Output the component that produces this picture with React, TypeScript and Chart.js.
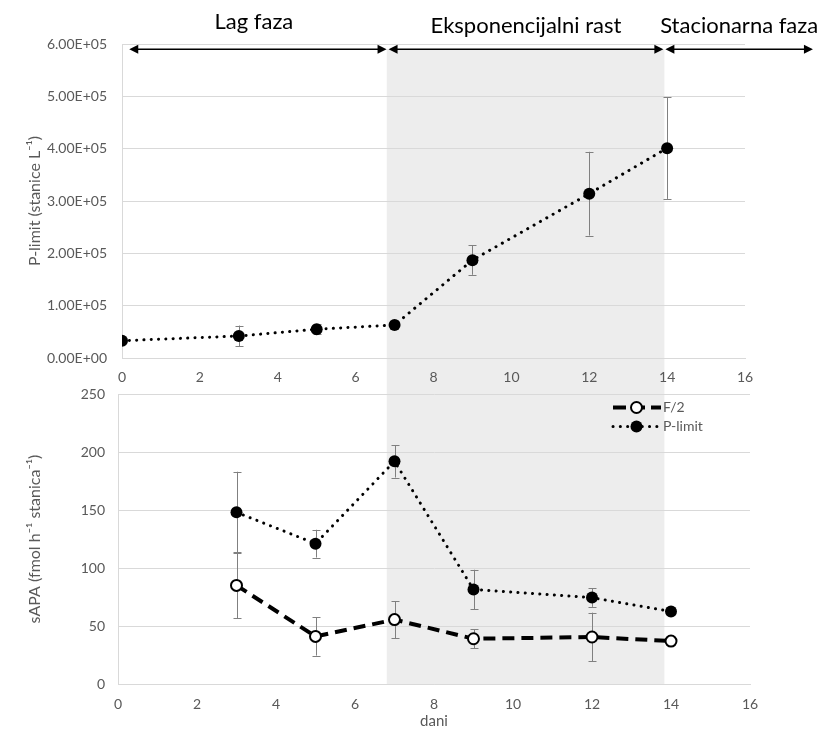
import React, { useEffect, useRef } from 'react';
import { Chart, registerables } from 'chart.js';

Chart.register(...registerables);

// ---------- data ----------
const days = [0, 3, 5, 7, 9, 12, 14];
const cellsPLimit = [33000, 42000, 55000, 63000, 187000, 314000, 401000];
const cellsPLimitErr = [0, 20000, 10000, 2000, 28000, 80000, 97000];

const sapaDays = [3, 5, 7, 9, 12, 14];
const sapaF2 = [85, 41, 55.5, 39, 40.5, 37];
const sapaF2Err = [28.5, 16.5, 16, 8, 21, 0];
const sapaPLimit = [148, 121, 192, 81.5, 74.5, 62.5];
const sapaPLimitErr = [35, 12, 14, 17, 8, 0];

const xTickValues = [0, 2, 4, 6, 8, 10, 12, 14, 16];
const topYTickValues = [0, 100000, 200000, 300000, 400000, 500000, 600000];
const topYTickLabels = ['0.00E+00', '1.00E+05', '2.00E+05', '3.00E+05', '4.00E+05', '5.00E+05', '6.00E+05'];
const bottomYTickValues = [0, 50, 100, 150, 200, 250];
const bottomYTickLabels = ['0', '50', '100', '150', '200', '250'];

const phaseLabels = ['Lag faza', 'Eksponencijalni rast', 'Stacionarna faza'];
const phaseBounds = [0.16, 6.82, 13.93, 17.77];
const shadedPhase = [6.8, 13.93];
const arrowLevel = 590000;

const seriesNames = ['F/2', 'P-limit'];

// ---------- style ----------
const W = 823;
const H = 731;
const FONT = "Lato, 'Open Sans', sans-serif";
const TICK_COLOR = '#595959';
const GRID = '#d9d9d9';
const BAND = '#ededed';
const ERR = '#808080';
const TICK_SIZE = 14;
const TITLE_SIZE = 16;

const errorBarsPlugin = {
  id: 'errorBars',
  beforeDatasetsDraw(chart: any) {
    const ctx = chart.ctx;
    const xs = chart.scales.x;
    const ys = chart.scales.y;
    ctx.save();
    ctx.strokeStyle = ERR;
    ctx.lineWidth = 1;
    ctx.setLineDash([]);
    chart.data.datasets.forEach((ds: any) => {
      if (!ds.errors) return;
      ds.data.forEach((p: any, i: number) => {
        const e = ds.errors[i];
        if (!e) return;
        const x = Math.round(xs.getPixelForValue(p.x)) + 0.5;
        const y1 = ys.getPixelForValue(p.y + e);
        const y2 = ys.getPixelForValue(p.y - e);
        ctx.beginPath();
        ctx.moveTo(x, y1);
        ctx.lineTo(x, y2);
        ctx.moveTo(x - 4, Math.round(y1) + 0.5);
        ctx.lineTo(x + 4, Math.round(y1) + 0.5);
        ctx.moveTo(x - 4, Math.round(y2) + 0.5);
        ctx.lineTo(x + 4, Math.round(y2) + 0.5);
        ctx.stroke();
      });
    });
    ctx.restore();
  },
};

function tickLabel(i: number, labels: string[]) {
  return labels[i] ?? '';
}

export default function App() {
  const topRef = useRef<HTMLCanvasElement>(null);
  const bottomRef = useRef<HTMLCanvasElement>(null);

  useEffect(() => {
    if (!topRef.current || !bottomRef.current) return;

    const tickFont = { family: FONT, size: TICK_SIZE };
    const titleFont = { family: FONT, size: TITLE_SIZE };

    // ---------------- bottom chart (sAPA) ----------------
    const legendPlugin = {
      id: 'customLegend',
      afterDraw(chart: any) {
        const ctx = chart.ctx;
        const { right, top } = chart.chartArea;
        const x0 = right - 137;
        const x1 = right - 101;
        const mx = right - 113.5;
        const tx = right - 87;
        ctx.save();
        chart.data.datasets.forEach((ds: any, i: number) => {
          const y = top + 13.5 + i * 19;
          ctx.beginPath();
          ctx.strokeStyle = ds.borderColor;
          ctx.lineWidth = ds.borderWidth;
          ctx.lineCap = ds.borderCapStyle || 'butt';
          ctx.setLineDash(i === 0 ? [13, 6] : ds.borderDash);
          ctx.moveTo(x0, y);
          ctx.lineTo(x1 + 12, y);
          ctx.stroke();
          ctx.setLineDash([]);
          ctx.beginPath();
          ctx.arc(mx, y, ds.pointRadius, 0, Math.PI * 2);
          ctx.fillStyle = ds.pointBackgroundColor;
          ctx.fill();
          if (ds.pointBorderWidth) {
            ctx.lineWidth = ds.pointBorderWidth;
            ctx.strokeStyle = ds.pointBorderColor;
            ctx.stroke();
          }
          ctx.fillStyle = TICK_COLOR;
          ctx.font = `${TICK_SIZE}px ${FONT}`;
          ctx.textAlign = 'left';
          ctx.textBaseline = 'middle';
          ctx.fillText(seriesNames[i], tx, y);
        });
        ctx.restore();
      },
    };

    const bottomChart = new Chart(bottomRef.current, {
      type: 'scatter',
      data: {
        datasets: [
          {
            label: seriesNames[0],
            data: sapaDays.map((d, i) => ({ x: d, y: sapaF2[i] })),
            errors: sapaF2Err,
            showLine: true,
            borderColor: '#000',
            borderWidth: 4,
            borderDash: [12, 7],
            borderCapStyle: 'butt',
            pointRadius: 5.5,
            pointBackgroundColor: '#fff',
            pointBorderColor: '#000',
            pointBorderWidth: 2,
          } as any,
          {
            label: seriesNames[1],
            data: sapaDays.map((d, i) => ({ x: d, y: sapaPLimit[i] })),
            errors: sapaPLimitErr,
            showLine: true,
            borderColor: '#000',
            borderWidth: 3,
            borderDash: [0.1, 7.2],
            borderCapStyle: 'round',
            pointRadius: 6,
            pointBackgroundColor: '#000',
            pointBorderColor: '#000',
            pointBorderWidth: 0,
          } as any,
        ],
      },
      options: {
        animation: false,
        responsive: false,
        maintainAspectRatio: false,
        events: [],
        layout: { padding: { left: 0, top: 394, right: 73, bottom: 0 } },
        plugins: { legend: { display: false }, tooltip: { enabled: false } },
        scales: {
          x: {
            type: 'linear',
            min: 0,
            max: 16,
            afterBuildTicks: (s: any) => {
              s.ticks = xTickValues.map((v) => ({ value: v }));
            },
            afterFit: (s: any) => {
              s.height = 47;
            },
            ticks: { color: TICK_COLOR, font: tickFont, padding: 12, maxRotation: 0 },
            grid: { display: false, drawTicks: false },
            border: { display: true, color: GRID },
            title: {
              display: true,
              text: 'dani',
              color: TICK_COLOR,
              font: { family: FONT, size: 15 },
              padding: { top: 0, bottom: 1 },
            },
          },
          y: {
            type: 'linear',
            min: 0,
            max: 250,
            afterBuildTicks: (s: any) => {
              s.ticks = bottomYTickValues.map((v) => ({ value: v }));
            },
            afterFit: (s: any) => {
              s.width = 118;
            },
            ticks: {
              color: TICK_COLOR,
              font: tickFont,
              padding: 13,
              callback: (_v: any, i: number) => tickLabel(i, bottomYTickLabels),
            },
            grid: { color: GRID, drawTicks: false },
            border: { display: true, color: GRID },
            title: {
              display: true,
              text: 'sAPA (fmol h⁻¹ stanica⁻¹)',
              color: TICK_COLOR,
              font: titleFont,
              padding: { top: 25, bottom: 0 },
            },
          },
        },
      } as any,
      plugins: [errorBarsPlugin, legendPlugin],
    });

    // ---------------- top chart (cells) ----------------
    const bandPlugin = {
      id: 'band',
      beforeDraw(chart: any) {
        const ctx = chart.ctx;
        const xs = chart.scales.x;
        const ys = chart.scales.y;
        const x1 = xs.getPixelForValue(shadedPhase[0]);
        const x2 = xs.getPixelForValue(shadedPhase[1]);
        const y1 = ys.getPixelForValue(arrowLevel);
        const y2 = bottomChart.chartArea ? bottomChart.chartArea.bottom : H - 47;
        ctx.save();
        ctx.fillStyle = BAND;
        ctx.fillRect(x1, y1, x2 - x1, y2 - y1);
        ctx.restore();
      },
    };

    const arrowsPlugin = {
      id: 'phaseArrows',
      afterDraw(chart: any) {
        const ctx = chart.ctx;
        const xs = chart.scales.x;
        const ys = chart.scales.y;
        const y = ys.getPixelForValue(arrowLevel);
        const raise = [20, 16.5, 16.5];
        const shift = [-4, 0, 0];
        ctx.save();
        ctx.strokeStyle = '#000';
        ctx.fillStyle = '#000';
        ctx.lineWidth = 1.3;
        for (let i = 0; i < phaseLabels.length; i++) {
          const a = xs.getPixelForValue(phaseBounds[i]) + 1;
          const b = xs.getPixelForValue(phaseBounds[i + 1]) - 1;
          ctx.beginPath();
          ctx.moveTo(a + 6, y);
          ctx.lineTo(b - 6, y);
          ctx.stroke();
          ctx.beginPath();
          ctx.moveTo(a, y);
          ctx.lineTo(a + 9, y - 4.5);
          ctx.lineTo(a + 9, y + 4.5);
          ctx.closePath();
          ctx.fill();
          ctx.beginPath();
          ctx.moveTo(b, y);
          ctx.lineTo(b - 9, y - 4.5);
          ctx.lineTo(b - 9, y + 4.5);
          ctx.closePath();
          ctx.fill();
          ctx.font = `22px ${FONT}`;
          ctx.textAlign = 'center';
          ctx.textBaseline = 'alphabetic';
          ctx.fillText(phaseLabels[i], (a + b) / 2 + shift[i], y - raise[i]);
        }
        ctx.restore();
      },
    };

    const topChart = new Chart(topRef.current, {
      type: 'scatter',
      data: {
        datasets: [
          {
            label: seriesNames[1],
            data: days.map((d, i) => ({ x: d, y: cellsPLimit[i] })),
            errors: cellsPLimitErr,
            showLine: true,
            borderColor: '#000',
            borderWidth: 3,
            borderDash: [0.1, 7.2],
            borderCapStyle: 'round',
            pointRadius: 6,
            pointBackgroundColor: '#000',
            pointBorderColor: '#000',
            pointBorderWidth: 0,
          } as any,
        ],
      },
      options: {
        animation: false,
        responsive: false,
        maintainAspectRatio: false,
        events: [],
        layout: { padding: { left: 0, top: 44, right: 78, bottom: 343 } },
        plugins: { legend: { display: false }, tooltip: { enabled: false } },
        scales: {
          x: {
            type: 'linear',
            min: 0,
            max: 16,
            afterBuildTicks: (s: any) => {
              s.ticks = xTickValues.map((v) => ({ value: v }));
            },
            afterFit: (s: any) => {
              s.height = 30;
            },
            ticks: { color: TICK_COLOR, font: tickFont, padding: 11, maxRotation: 0 },
            grid: { display: false, drawTicks: false },
            border: { display: true, color: GRID },
          },
          y: {
            type: 'linear',
            min: 0,
            max: 600000,
            afterBuildTicks: (s: any) => {
              s.ticks = topYTickValues.map((v) => ({ value: v }));
            },
            afterFit: (s: any) => {
              s.width = 122;
            },
            ticks: {
              color: TICK_COLOR,
              font: tickFont,
              padding: 15,
              callback: (_v: any, i: number) => tickLabel(i, topYTickLabels),
            },
            grid: { color: GRID, drawTicks: false },
            border: { display: true, color: GRID },
            title: {
              display: true,
              text: 'P-limit (stanice L⁻¹)',
              color: TICK_COLOR,
              font: titleFont,
              padding: { top: 25, bottom: 0 },
            },
          },
        },
      } as any,
      plugins: [bandPlugin, errorBarsPlugin, arrowsPlugin],
    });

    return () => {
      topChart.destroy();
      bottomChart.destroy();
    };
  }, []);

  return (
    <div style={{ position: 'fixed', left: 0, top: 0, width: W, height: H, background: '#fff' }}>
      <canvas
        ref={topRef}
        width={W}
        height={H}
        style={{ position: 'absolute', left: 0, top: 0, width: W, height: H, zIndex: 1 }}
      />
      <canvas
        ref={bottomRef}
        width={W}
        height={H}
        style={{ position: 'absolute', left: 0, top: 0, width: W, height: H, zIndex: 2 }}
      />
    </div>
  );
}
